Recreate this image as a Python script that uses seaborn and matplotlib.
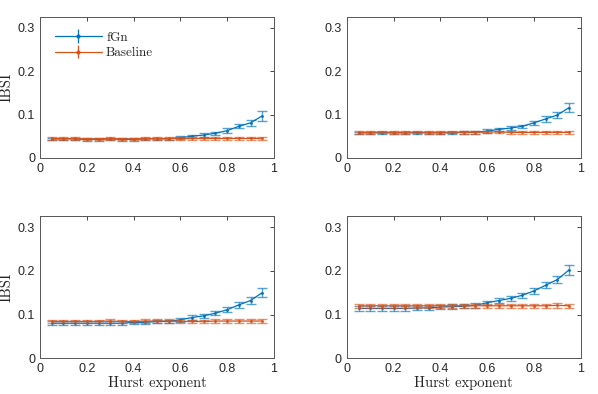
import numpy as np
import pandas as pd
import matplotlib
matplotlib.use("Agg")
import matplotlib.pyplot as plt
import seaborn as sns

# Hurst exponents
hurst = [0.05, 0.10, 0.15, 0.20, 0.25, 0.30, 0.35, 0.40, 0.45, 0.50,
         0.55, 0.60, 0.65, 0.70, 0.75, 0.80, 0.85, 0.90, 0.95]

# panel 1 (top left)
fgn_1 = [0.044, 0.044, 0.044, 0.043, 0.043, 0.044, 0.043, 0.043, 0.044, 0.044,
         0.044, 0.047, 0.050, 0.053, 0.057, 0.063, 0.073, 0.081, 0.097]
fgn_err_1 = [0.003, 0.003, 0.003, 0.003, 0.003, 0.003, 0.003, 0.003, 0.003, 0.003,
             0.003, 0.004, 0.004, 0.004, 0.004, 0.005, 0.005, 0.007, 0.011]
base_1 = [0.045, 0.045, 0.045, 0.044, 0.044, 0.045, 0.044, 0.044, 0.045, 0.045,
          0.045, 0.045, 0.045, 0.045, 0.045, 0.045, 0.045, 0.045, 0.045]
base_err_1 = [0.003] * 19

# panel 2 (top right)
fgn_2 = [0.058, 0.058, 0.058, 0.058, 0.058, 0.058, 0.058, 0.058, 0.058, 0.059,
         0.059, 0.062, 0.066, 0.069, 0.073, 0.081, 0.090, 0.099, 0.116]
fgn_err_2 = [0.003, 0.003, 0.003, 0.003, 0.003, 0.003, 0.003, 0.003, 0.003, 0.003,
             0.003, 0.004, 0.004, 0.004, 0.004, 0.005, 0.006, 0.007, 0.011]
base_2 = [0.059, 0.059, 0.060, 0.059, 0.059, 0.060, 0.059, 0.059, 0.060, 0.059,
          0.059, 0.060, 0.060, 0.059, 0.059, 0.059, 0.059, 0.059, 0.059]
base_err_2 = [0.003] * 19

# panel 3 (bottom left)
fgn_3 = [0.080, 0.080, 0.080, 0.080, 0.080, 0.080, 0.080, 0.082, 0.082, 0.084,
         0.084, 0.088, 0.093, 0.097, 0.103, 0.111, 0.122, 0.132, 0.150]
fgn_err_3 = [0.004, 0.004, 0.004, 0.004, 0.004, 0.004, 0.004, 0.004, 0.004, 0.004,
             0.004, 0.005, 0.005, 0.005, 0.005, 0.006, 0.006, 0.008, 0.011]
base_3 = [0.084, 0.084, 0.084, 0.084, 0.084, 0.085, 0.084, 0.084, 0.085, 0.085,
          0.085, 0.084, 0.084, 0.084, 0.085, 0.085, 0.085, 0.085, 0.085]
base_err_3 = [0.004] * 19

# panel 4 (bottom right)
fgn_4 = [0.114, 0.114, 0.114, 0.114, 0.114, 0.115, 0.115, 0.117, 0.118, 0.119,
         0.121, 0.127, 0.132, 0.137, 0.144, 0.154, 0.167, 0.180, 0.202]
fgn_err_4 = [0.005, 0.005, 0.005, 0.005, 0.005, 0.005, 0.005, 0.005, 0.005, 0.005,
             0.005, 0.005, 0.006, 0.006, 0.006, 0.006, 0.007, 0.008, 0.012]
base_4 = [0.120, 0.120, 0.120, 0.120, 0.120, 0.120, 0.120, 0.120, 0.120, 0.120,
          0.120, 0.120, 0.120, 0.120, 0.120, 0.120, 0.120, 0.121, 0.120]
base_err_4 = [0.005] * 19

panels = [(fgn_1, fgn_err_1, base_1, base_err_1),
          (fgn_2, fgn_err_2, base_2, base_err_2),
          (fgn_3, fgn_err_3, base_3, base_err_3),
          (fgn_4, fgn_err_4, base_4, base_err_4)]

blue = "#0072BD"
orange = "#D95319"

sns.set_style("white")
plt.rcParams["font.family"] = ["Liberation Sans", "DejaVu Sans"]
serif = ["cmr10", "Liberation Serif"]

fig = plt.figure(figsize=(5.98, 3.94), dpi=100)
positions = [[0.067, 0.599, 0.391, 0.358],
             [0.580, 0.599, 0.391, 0.358],
             [0.067, 0.091, 0.391, 0.360],
             [0.580, 0.091, 0.391, 0.360]]

for i, (fgn, fgn_err, base, base_err) in enumerate(panels):
    ax = fig.add_axes(positions[i])
    df = pd.DataFrame({"H": hurst, "fGn": fgn, "Baseline": base})
    for name, vals, err, col in [("fGn", fgn, fgn_err, blue),
                                 ("Baseline", base, base_err, orange)]:
        ax.errorbar(hurst, vals, yerr=err, color=col, alpha=0.65, fmt="none",
                    capsize=3.5, elinewidth=1.0, capthick=1.0)
        sns.lineplot(data=df, x="H", y=name, ax=ax, color=col, linewidth=0.9,
                     marker="o", markersize=2.0, markeredgewidth=0,
                     legend=False)
    ax.set_xlim(0, 1)
    ax.set_ylim(0, 0.325)
    ax.set_xticks([0, 0.2, 0.4, 0.6, 0.8, 1])
    ax.set_xticklabels(["0", "0.2", "0.4", "0.6", "0.8", "1"])
    ax.set_yticks([0, 0.1, 0.2, 0.3])
    ax.set_yticklabels(["0", "0.1", "0.2", "0.3"])
    ax.tick_params(direction="in", top=True, right=True, length=3,
                   labelsize=9, colors="#262626", width=0.6)
    for s in ax.spines.values():
        s.set_color("#555555")
        s.set_linewidth(0.7)
    ax.set_xlabel("Hurst exponent" if i >= 2 else "", family=serif, fontsize=10.5,
                  labelpad=1)
    ax.set_ylabel("IBSI" if i % 2 == 0 else "", family=serif, fontsize=10.5,
                  labelpad=3)
    if i == 0:
        h1 = ax.errorbar([], [], yerr=[], color=blue, marker="o", markersize=2.0,
                         capsize=3.5, linewidth=0.9)
        h2 = ax.errorbar([], [], yerr=[], color=orange, marker="o", markersize=2.0,
                         capsize=3.5, linewidth=0.9)
        ax.legend([h1, h2], ["fGn", "Baseline"], loc="upper left", frameon=False,
                  prop={"family": serif, "size": 9.5}, handlelength=3.6,
                  borderaxespad=0.7, labelspacing=0.25, handletextpad=0.3)

fig.savefig("out.png", dpi=100)
